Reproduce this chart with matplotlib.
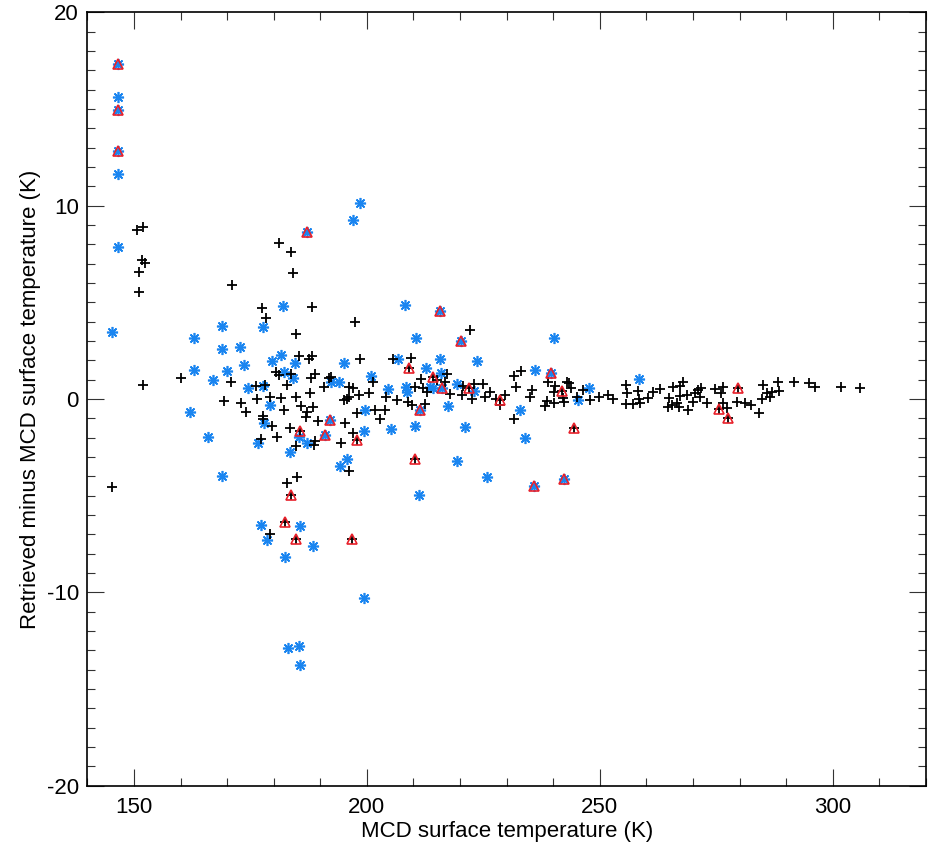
import matplotlib
matplotlib.use('Agg')
import matplotlib.pyplot as plt
import numpy as np

# retrievals flagged as good (black plus)
good_x = [150.6, 152.0, 151.7, 152.4, 151.1, 151.1, 171.0, 181.1, 183.7, 184.1,
          177.5, 188.2, 178.3, 184.8, 185.4, 187.5, 188.2, 180.5, 181.2, 183.7,
          188.9, 188.0, 191.8, 160.0, 170.8, 152.0, 178.1, 176.3, 182.9, 190.7,
          187.8, 179.3, 181.5, 184.8, 169.3, 173.0, 176.4, 185.9, 188.4, 182.2,
          174.1, 187.1, 186.9, 177.8, 177.8, 189.4, 179.6, 183.5, 185.6, 180.8,
          177.3, 188.9, 188.7, 184.8, 184.9, 182.8, 145.4, 183.7, 182.4, 179.2,
          184.7, 196.7,
          197.4, 198.6, 205.7, 192.3, 201.3, 204.2, 206.4, 196.2, 197.1, 198.4,
          200.4, 195.0, 195.7, 196.1, 197.8, 201.7, 203.8, 202.8, 195.3, 197.0,
          197.8, 194.4, 196.2,
          222.1, 209.5, 209.1, 233.0, 231.5, 217.1, 214.2, 211.6, 215.1, 216.8,
          221.9, 220.7, 223.0, 225.0, 226.4, 220.4, 222.6, 225.4, 227.8, 228.6,
          229.6, 228.6, 210.3, 212.0, 212.9, 208.9, 209.7, 212.4, 217.8, 231.5,
          244.5, 210.4, 232.1, 235.4, 235.1, 238.6, 238.2, 240.2, 238.9, 240.3,
          240.1, 242.1, 243.3, 243.8, 245.0, 241.8,
          242.9, 242.3, 246.4, 247.9, 249.9, 251.8, 252.8, 255.6, 255.8, 255.6,
          257.2, 258.6, 258.2, 258.3, 260.4, 261.5, 262.9, 264.8, 265.4, 264.7,
          266.6, 267.0, 267.1, 267.8, 265.8, 267.3, 268.6, 269.0, 269.9, 270.4,
          271.1, 271.5, 271.8, 272.9, 275.6, 274.7, 276.4, 275.9, 276.5, 277.2,
          277.4, 279.6, 279.4, 281.1, 282.4, 284.1,
          285.1, 285.8, 286.5, 284.9, 286.9, 288.5, 288.3, 291.7, 294.9, 296.2,
          301.7, 305.8]
good_y = [8.76, 8.91, 7.19, 7.02, 6.59, 5.55, 5.90, 8.07, 7.62, 6.53,
          4.72, 4.74, 4.17, 3.36, 2.22, 2.08, 2.22, 1.40, 1.26, 1.29,
          1.29, 1.10, 1.10, 1.10, 0.88, 0.74, 0.72, 0.67, 0.72, 0.64,
          0.33, 0.10, 0.05, 0.10, -0.09, -0.21, 0.00, -0.38, -0.41, -0.57,
          -0.69, -0.66, -0.92, -0.86, -1.03, -1.12, -1.38, -1.50, -1.66, -1.97,
          -2.07, -2.16, -2.38, -2.41, -4.04, -4.36, -4.57, -4.97, -6.35, -6.98,
          -7.24, -7.26,
          3.97, 2.08, 2.08, 1.15, 0.88, 0.12, -0.05, 0.61, 0.57, 0.21,
          0.29, -0.05, 0.02, 0.09, -0.74, -0.57, -0.57, -1.03, -1.22, -1.78,
          -2.12, -2.26, -3.74,
          3.57, 2.10, 1.62, 1.47, 1.21, 1.28, 1.15, 1.02, 0.98, 0.86,
          0.55, 0.67, 0.78, 0.78, 0.38, 0.21, 0.02, 0.09, 0.03, -0.05,
          0.21, -0.31, 0.61, 0.55, 0.38, -0.15, -0.31, -0.26, 0.26, -1.05,
          -1.48, -3.12, 0.60, 0.47, 0.12, -0.09, -0.36, -0.19, 0.90, 0.67,
          0.35, 0.04, 0.81, 0.55, 0.09, 0.43,
          0.90, -0.14, 0.47, -0.05, 0.09, 0.21, -0.02, 0.72, 0.29, -0.27,
          -0.27, -0.22, 0.43, -0.02, 0.04, 0.38, 0.50, 0.04, -0.31, -0.40,
          -0.19, -0.40, 0.67, 0.90, 0.61, 0.16, 0.21, -0.57, -0.14, 0.29,
          0.47, 0.12, 0.55, -0.19, -0.53, 0.50, 0.61, 0.29, -0.19, -0.48,
          -1.00, 0.55, -0.14, -0.19, -0.31, -0.74,
          0.72, 0.33, 0.12, 0.00, 0.38, 0.41, 0.90, 0.90, 0.84, 0.61,
          0.64, 0.59]

# retrievals with extra issue (blue asterisk)
blue_x = [146.5, 146.5, 146.5, 146.5, 146.5, 146.5, 145.4, 182.1, 168.8, 177.6,
          162.8, 168.9, 172.7, 181.6, 179.7, 184.6, 173.6, 163.0, 170.0, 182.3,
          184.1, 167.0, 177.8, 174.4, 179.1, 162.0, 178.0, 166.0, 185.4, 176.6,
          187.1, 183.5, 168.9, 177.3, 185.6, 178.6, 188.4, 182.5, 199.4, 183.0,
          185.4, 185.7, 195.0, 206.7, 192.3, 194.0, 200.8, 204.5, 199.6, 205.1,
          199.4, 192.0, 191.0, 195.7, 194.2, 198.5, 197.0, 187.2, 208.2, 215.7,
          210.5, 220.1, 240.2, 215.6, 223.6, 212.6, 236.1, 239.6, 215.9, 219.3,
          213.5, 214.2, 216.1, 223.0, 208.4, 208.6, 211.5, 217.5, 210.3, 221.1,
          232.9, 233.9, 219.3, 225.7, 235.8, 242.2, 211.2, 245.2, 247.7, 258.5]
blue_y = [17.33, 15.64, 14.95, 12.83, 11.62, 7.88, 3.48, 4.81, 3.78, 3.71,
          3.16, 2.60, 2.67, 2.28, 1.97, 1.88, 1.76, 1.53, 1.47, 1.38,
          1.10, 0.98, 0.67, 0.58, -0.33, -0.69, -1.26, -1.97, -1.97, -2.26,
          -2.26, -2.73, -3.97, -6.52, -6.54, -7.29, -7.60, -8.19, -10.28, -12.85,
          -12.76, -13.75, 1.85, 2.08, 0.88, 0.88, 1.19, 0.50, -0.57, -1.57,
          -1.66, -1.09, -1.86, -3.12, -3.45, 10.12, 9.26, 8.62, 4.88, 4.55,
          3.17, 2.98, 3.17, 2.05, 1.97, 1.59, 1.53, 1.33, 1.33, 0.76,
          0.64, 0.55, 0.55, 0.41, 0.64, 0.38, -0.57, -0.36, -1.38, -1.43,
          -0.57, -2.00, -3.21, -4.02, -4.49, -4.15, -4.97, -0.05, 0.55, 1.03]

# flagged retrievals (red triangle)
red_x = [146.5, 146.5, 146.5, 187.2, 215.7, 220.1, 209.1, 239.6, 214.2, 216.1,
         221.9, 228.6, 211.5, 241.8, 279.6, 275.6, 277.4, 244.5, 192.0, 185.6,
         191.0, 197.8, 210.4, 235.8, 242.2, 183.7, 182.4, 184.7, 196.7]
red_y = [17.33, 14.95, 12.83, 8.62, 4.55, 2.98, 1.62, 1.33, 1.15, 0.55,
         0.55, -0.05, -0.57, 0.43, 0.55, -0.53, -1.00, -1.48, -1.09, -1.66,
         -1.86, -2.12, -3.12, -4.49, -4.15, -4.97, -6.35, -7.24, -7.26]


def main():
    plt.rcParams['font.family'] = ['Liberation Sans', 'DejaVu Sans']
    plt.rcParams['axes.unicode_minus'] = False

    fig = plt.figure(figsize=(9.29, 8.44), dpi=100)
    ax = fig.add_axes([0.094, 0.069, 0.9028, 0.9163])

    ax.plot(blue_x, blue_y, ls='none', marker=(8, 2, 0), ms=8, mew=1.2,
            color='#1a85f0')
    ax.plot(good_x, good_y, ls='none', marker='+', ms=7.5, mew=1.3, color='black')
    ax.plot(red_x, red_y, ls='none', marker='^', ms=6.5, mew=1.2,
            mfc='none', mec='#e8202a')

    ax.set_xlim(140, 320)
    ax.set_ylim(-20, 20)
    ax.set_xticks([150, 200, 250, 300])
    ax.set_xticks(np.arange(140, 321, 10), minor=True)
    ax.set_yticks([-20, -10, 0, 10, 20])
    ax.set_yticks(np.arange(-20, 21, 1), minor=True)

    ax.tick_params(which='both', direction='in', top=True, right=True,
                   width=0.8, color='#333333', labelsize=16)
    ax.tick_params(which='major', length=12)
    ax.tick_params(which='minor', length=6)
    ax.tick_params(axis='x', pad=8)
    ax.tick_params(axis='y', pad=6)
    for s in ax.spines.values():
        s.set_linewidth(1.2)

    ax.set_xlabel('MCD surface temperature (K)', fontsize=16, labelpad=2)
    ax.set_ylabel('Retrieved minus MCD surface temperature (K)', fontsize=16,
                  labelpad=4)

    fig.savefig('out.png', dpi=100)


if __name__ == '__main__':
    main()
